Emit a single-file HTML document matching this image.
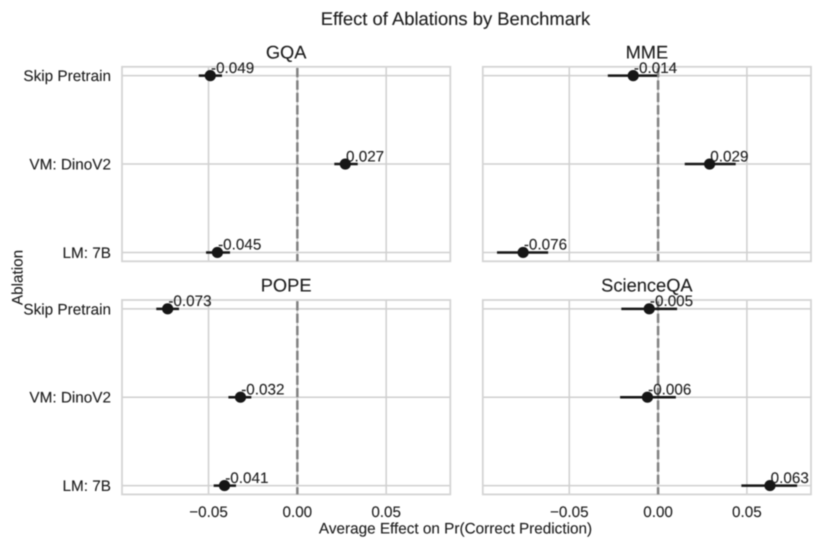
<!DOCTYPE html>
<html lang="en">
<head>
<meta charset="utf-8">
<title>Effect of Ablations by Benchmark</title>
<style>
html,body{margin:0;padding:0;background:#fff;width:822px;height:548px;overflow:hidden}
svg{display:block;filter:blur(0.4px)}
text{font-family:"Liberation Sans",Arial,sans-serif;fill:#1e1e1e;stroke:#1e1e1e;stroke-width:0.12px;text-rendering:geometricPrecision}
</style>
</head>
<body>
<svg id="chart" xmlns="http://www.w3.org/2000/svg" width="822" height="548" viewBox="0 0 822 548"></svg>
<script>
const categories = ["Skip Pretrain", "VM: DinoV2", "LM: 7B"];
const benchmarks = ["GQA", "MME", "POPE", "ScienceQA"];
const gqaValues = [-0.049, 0.027, -0.045];
const gqaLow = [-0.0555, 0.0208, -0.0514];
const gqaHigh = [-0.0424, 0.034, -0.0379];
const mmeValues = [-0.014, 0.029, -0.076];
const mmeLow = [-0.0283, 0.015, -0.0907];
const mmeHigh = [-0.0006, 0.0437, -0.0619];
const popeValues = [-0.073, -0.032, -0.041];
const popeLow = [-0.0794, -0.0388, -0.0471];
const popeHigh = [-0.0666, -0.0259, -0.0345];
const scienceValues = [-0.005, -0.006, 0.063];
const scienceLow = [-0.0207, -0.0214, 0.0469];
const scienceHigh = [0.0107, 0.01, 0.0783];
const xTicks = [-0.05, 0, 0.05];
const xTickLabels = ["\u22120.05", "0.00", "0.05"];
const xDomain = [-0.0987, 0.0861];
const yDomain = [-0.1, 2.1];

const svg = document.getElementById('chart');
const NS = 'http://www.w3.org/2000/svg';

function make(tag, attrs, parent, content) {
  const el = document.createElementNS(NS, tag);
  for (const k in attrs) el.setAttribute(k, attrs[k]);
  if (content !== undefined) el.textContent = content;
  parent.appendChild(el);
  return el;
}
function slug(s) {
  return s.toLowerCase().replace(/[^a-z0-9]+/g, '-').replace(/^-|-$/g, '');
}

const panels = [
  {name: benchmarks[0], v: gqaValues, lo: gqaLow, hi: gqaHigh, box: [122, 66.8, 450.3, 261.3], col: 0, row: 0},
  {name: benchmarks[1], v: mmeValues, lo: mmeLow, hi: mmeHigh, box: [482.8, 66.8, 811, 261.3], col: 1, row: 0},
  {name: benchmarks[2], v: popeValues, lo: popeLow, hi: popeHigh, box: [122, 300, 450.3, 494.4], col: 0, row: 1},
  {name: benchmarks[3], v: scienceValues, lo: scienceLow, hi: scienceHigh, box: [482.8, 300, 811, 494.4], col: 1, row: 1}
];

panels.forEach(function (p) {
  const [x0, y0, x1, y1] = p.box;
  const sx = function (d) { return x0 + (d - xDomain[0]) / (xDomain[1] - xDomain[0]) * (x1 - x0); };
  const sy = function (i) { return y0 + (i - yDomain[0]) / (yDomain[1] - yDomain[0]) * (y1 - y0); };
  const id = slug(p.name);

  const g = make('g', {}, svg);
  
  

  xTicks.forEach(function (t, i) {
    const line = make('line', {x1: sx(t), x2: sx(t), y1: y0, y2: y1, stroke: '#cfcfcf', 'stroke-width': 1.5}, g);
    
    
    if (p.row === 1) {
      const tick = make('text', {x: sx(t), y: 517, 'text-anchor': 'middle', 'font-size': 15.25}, g, xTickLabels[i]);
      
      
    }
  });

  categories.forEach(function (c, i) {
    const line = make('line', {x1: x0, x2: x1, y1: sy(i), y2: sy(i), stroke: '#cfcfcf', 'stroke-width': 1.5}, g);
    
    
    if (p.col === 0) {
      const tick = make('text', {x: 111, y: sy(i) + 5.5, 'text-anchor': 'end', 'font-size': 15.3}, g, c);
      
      
    }
  });

  const frame = make('rect', {x: x0, y: y0, width: x1 - x0, height: y1 - y0, fill: 'none', stroke: '#d4d4d4', 'stroke-width': 1.8}, g);
  
  

  const zero = make('line', {x1: sx(0), x2: sx(0), y1: y0 + 1.2, y2: y1, stroke: '#828282', 'stroke-width': 2.5, 'stroke-dasharray': '9.3 3.1'}, g);
  
  

  const title = make('text', {x: (x0 + x1) / 2, y: y0 - 8.5, 'text-anchor': 'middle', 'font-size': 18.3}, g, p.name);
  
  

  p.v.forEach(function (v, i) {
    const err = make('line', {x1: sx(p.lo[i]), x2: sx(p.hi[i]), y1: sy(i), y2: sy(i), stroke: '#161616', 'stroke-width': 2.5}, g);
    
    
    const dot = make('circle', {cx: sx(v), cy: sy(i), r: 5.6, fill: '#161616'}, g);
    
    
    const label = make('text', {x: sx(v) + 0.7, y: sy(i) - 2.8, 'font-size': 15.25}, g, v.toFixed(3));
    
    
  });
});
</script>
<svg style="position:absolute;left:0;top:0" xmlns="http://www.w3.org/2000/svg" width="822" height="548" viewBox="0 0 822 548">
  <text x="455.5" y="25" text-anchor="middle" font-size="18.4">Effect of Ablations by Benchmark</text>
  <text x="455.5" y="533.3" text-anchor="middle" font-size="15.3">Average Effect on Pr(Correct Prediction)</text>
  <text transform="translate(22.3 277.5) rotate(-90)" text-anchor="middle" font-size="15.25">Ablation</text>
</svg>
</body>
</html>
